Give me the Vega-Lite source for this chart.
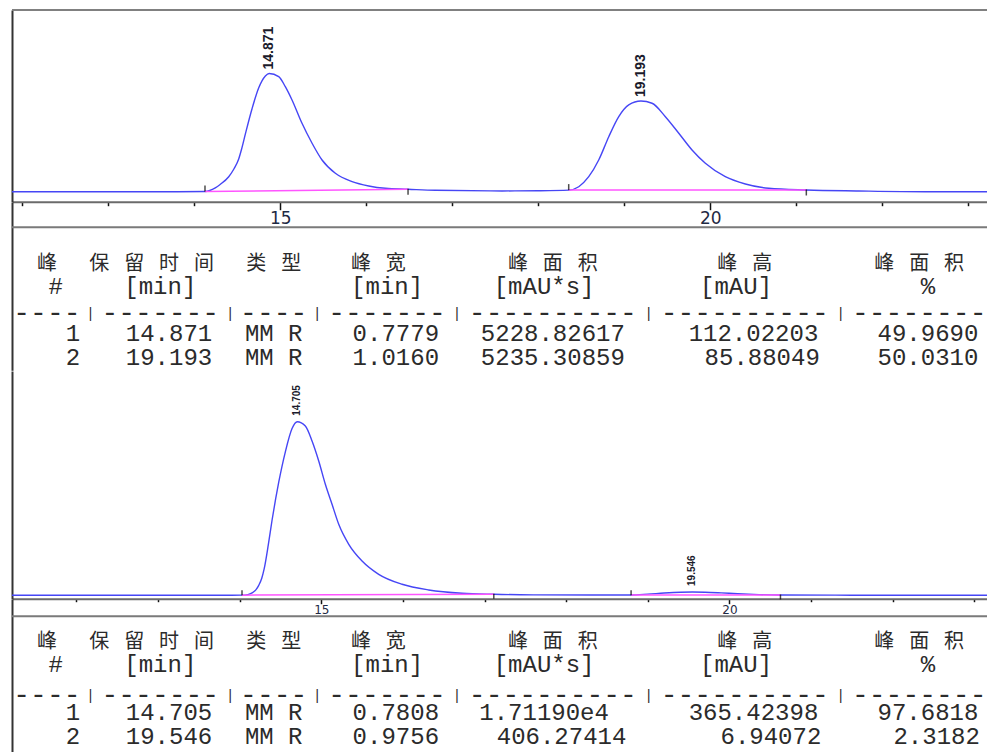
{
  "$schema": "https://vega.github.io/schema/vega-lite/v6.json",
  "background": "white",
  "padding": {"left": 9, "top": 9, "right": 0, "bottom": 0},
  "bounds": "flush",
  "spacing": 0,
  "config": {"view": {"stroke": null}, "axis": {"grid": false}},
  "datasets": {
    "trace1": [
      {"t": 11.88, "v": 0}, {"t": 12.5, "v": 0}, {"t": 13.2, "v": 0}, {"t": 13.8, "v": 0},
      {"t": 14.124, "v": 0.2}, {"t": 14.244, "v": 3.6}, {"t": 14.3, "v": 6.8}, {"t": 14.4, "v": 14.2},
      {"t": 14.46, "v": 21.5}, {"t": 14.516, "v": 31.0}, {"t": 14.55, "v": 40.5}, {"t": 14.593, "v": 54.5},
      {"t": 14.671, "v": 78.6}, {"t": 14.749, "v": 98.5}, {"t": 14.826, "v": 109.7},
      {"t": 14.871, "v": 112.02203}, {"t": 14.981, "v": 109.0}, {"t": 15.058, "v": 99.5}, {"t": 15.136, "v": 86.9},
      {"t": 15.252, "v": 64.8}, {"t": 15.369, "v": 45.9}, {"t": 15.485, "v": 30.0}, {"t": 15.64, "v": 17.4},
      {"t": 15.834, "v": 9.5}, {"t": 16.028, "v": 5.4}, {"t": 16.221, "v": 3.2}, {"t": 16.485, "v": 2.3},
      {"t": 16.802, "v": 1.3}, {"t": 17.58, "v": 0.7}, {"t": 18.0, "v": 0.9}, {"t": 18.353, "v": 1.5},
      {"t": 18.47, "v": 4.7}, {"t": 18.586, "v": 14.2}, {"t": 18.702, "v": 30.0}, {"t": 18.819, "v": 52.1},
      {"t": 18.935, "v": 71.1}, {"t": 19.051, "v": 82.2}, {"t": 19.193, "v": 85.88049}, {"t": 19.322, "v": 83.8},
      {"t": 19.477, "v": 71.1}, {"t": 19.633, "v": 55.4}, {"t": 19.787, "v": 39.5}, {"t": 19.942, "v": 26.9},
      {"t": 20.174, "v": 14.2}, {"t": 20.407, "v": 7.3}, {"t": 20.679, "v": 3.2}, {"t": 21.116, "v": 1.6},
      {"t": 21.726, "v": 0.7}, {"t": 22.5, "v": 0.0}, {"t": 23.24, "v": 0.0}
    ],
    "base1": [
      {"peak": 1, "t": 14.124, "v": 0.2, "kind": "start"}, {"peak": 1, "t": 16.485, "v": 2.3, "kind": "end"},
      {"peak": 2, "t": 18.353, "v": 1.5, "kind": "start"}, {"peak": 2, "t": 21.116, "v": 1.6, "kind": "end"}
    ],
    "peaks1": [{"rt": 14.871, "h": 112.02203}, {"rt": 19.193, "h": 85.88049}],
    "trace2": [
      {"t": 11.21, "v": 0}, {"t": 12.5, "v": 0}, {"t": 13.5, "v": 0}, {"t": 14.028, "v": 0.3},
      {"t": 14.1, "v": 1.5}, {"t": 14.151, "v": 5.0}, {"t": 14.2, "v": 12}, {"t": 14.233, "v": 21},
      {"t": 14.27, "v": 36}, {"t": 14.3, "v": 56}, {"t": 14.35, "v": 106}, {"t": 14.396, "v": 158},
      {"t": 14.44, "v": 203}, {"t": 14.478, "v": 238}, {"t": 14.559, "v": 302}, {"t": 14.641, "v": 351},
      {"t": 14.705, "v": 365.42398}, {"t": 14.804, "v": 356.4}, {"t": 14.886, "v": 324.8}, {"t": 14.968, "v": 282.7},
      {"t": 15.049, "v": 233.7}, {"t": 15.131, "v": 191.6}, {"t": 15.213, "v": 149.5}, {"t": 15.336, "v": 107.4},
      {"t": 15.499, "v": 72.2}, {"t": 15.703, "v": 44.2}, {"t": 15.989, "v": 23.2}, {"t": 16.316, "v": 11.2},
      {"t": 16.724, "v": 4.2}, {"t": 17.113, "v": 2.1}, {"t": 17.6, "v": 0.9}, {"t": 18.3, "v": 0.5},
      {"t": 18.795, "v": 0.6}, {"t": 19.0, "v": 2.4}, {"t": 19.2, "v": 4.8}, {"t": 19.4, "v": 6.5},
      {"t": 19.546, "v": 6.94072}, {"t": 19.7, "v": 6.5}, {"t": 19.9, "v": 5.0}, {"t": 20.1, "v": 3.2},
      {"t": 20.3, "v": 1.8}, {"t": 20.625, "v": 0.6}, {"t": 21.5, "v": 0.2}, {"t": 23.18, "v": 0}
    ],
    "base2": [
      {"peak": 1, "t": 14.028, "v": 0.3, "kind": "start"}, {"peak": 1, "t": 17.113, "v": 2.1, "kind": "end"},
      {"peak": 2, "t": 18.795, "v": 0.6, "kind": "start"}, {"peak": 2, "t": 20.625, "v": 0.6, "kind": "end"}
    ],
    "peaks2": [{"rt": 14.705, "h": 365.42398}, {"rt": 19.546, "h": 6.94072}],
    "table1": [
      {"line": 1, "col": 2, "s": "峰", "kind": "cjk"},
      {"line": 1, "col": 5, "s": "保", "kind": "cjk"}, {"line": 1, "col": 7, "s": "留", "kind": "cjk"},
      {"line": 1, "col": 9, "s": "时", "kind": "cjk"}, {"line": 1, "col": 11, "s": "间", "kind": "cjk"},
      {"line": 1, "col": 14, "s": "类", "kind": "cjk"}, {"line": 1, "col": 16, "s": "型", "kind": "cjk"},
      {"line": 1, "col": 20, "s": "峰", "kind": "cjk"}, {"line": 1, "col": 22, "s": "宽", "kind": "cjk"},
      {"line": 1, "col": 29, "s": "峰", "kind": "cjk"}, {"line": 1, "col": 31, "s": "面", "kind": "cjk"},
      {"line": 1, "col": 33, "s": "积", "kind": "cjk"},
      {"line": 1, "col": 41, "s": "峰", "kind": "cjk"}, {"line": 1, "col": 43, "s": "高", "kind": "cjk"},
      {"line": 1, "col": 50, "s": "峰", "kind": "cjk"}, {"line": 1, "col": 52, "s": "面", "kind": "cjk"},
      {"line": 1, "col": 54, "s": "积", "kind": "cjk"},
      {"line": 2, "col": 2.5, "s": "#", "kind": "txt"}, {"line": 2, "col": 8.5, "s": "[min]", "kind": "txt"},
      {"line": 2, "col": 21.5, "s": "[min]", "kind": "txt"}, {"line": 2, "col": 30.5, "s": "[mAU*s]", "kind": "txt"},
      {"line": 2, "col": 41.5, "s": "[mAU]", "kind": "txt"}, {"line": 2, "col": 52.5, "s": "%", "kind": "txt"},
      {"line": 3, "col": 2, "s": "----", "kind": "dash"}, {"line": 3, "col": 8.5, "s": "-------", "kind": "dash"},
      {"line": 3, "col": 15, "s": "----", "kind": "dash"}, {"line": 3, "col": 21.5, "s": "-------", "kind": "dash"},
      {"line": 3, "col": 31, "s": "----------", "kind": "dash"}, {"line": 3, "col": 42, "s": "----------", "kind": "dash"},
      {"line": 3, "col": 52, "s": "--------", "kind": "dash"},
      {"line": 3, "col": 4.5, "s": "|", "kind": "pipe"}, {"line": 3, "col": 12.5, "s": "|", "kind": "pipe"},
      {"line": 3, "col": 17.5, "s": "|", "kind": "pipe"}, {"line": 3, "col": 25.5, "s": "|", "kind": "pipe"},
      {"line": 3, "col": 36.5, "s": "|", "kind": "pipe"}, {"line": 3, "col": 47.5, "s": "|", "kind": "pipe"},
      {"line": 4, "col": 3.5, "s": "1", "kind": "txt"}, {"line": 4, "col": 9, "s": "14.871", "kind": "txt"},
      {"line": 4, "col": 15, "s": "MM R", "kind": "txt"}, {"line": 4, "col": 22, "s": "0.7779", "kind": "txt"},
      {"line": 4, "col": 31, "s": "5228.82617", "kind": "txt"}, {"line": 4, "col": 42.5, "s": "112.02203", "kind": "txt"},
      {"line": 4, "col": 52.5, "s": "49.9690", "kind": "txt"},
      {"line": 5, "col": 3.5, "s": "2", "kind": "txt"}, {"line": 5, "col": 9, "s": "19.193", "kind": "txt"},
      {"line": 5, "col": 15, "s": "MM R", "kind": "txt"}, {"line": 5, "col": 22, "s": "1.0160", "kind": "txt"},
      {"line": 5, "col": 31, "s": "5235.30859", "kind": "txt"}, {"line": 5, "col": 43, "s": "85.88049", "kind": "txt"},
      {"line": 5, "col": 52.5, "s": "50.0310", "kind": "txt"}
    ],
    "table2": [
      {"line": 1, "col": 2, "s": "峰", "kind": "cjk"},
      {"line": 1, "col": 5, "s": "保", "kind": "cjk"}, {"line": 1, "col": 7, "s": "留", "kind": "cjk"},
      {"line": 1, "col": 9, "s": "时", "kind": "cjk"}, {"line": 1, "col": 11, "s": "间", "kind": "cjk"},
      {"line": 1, "col": 14, "s": "类", "kind": "cjk"}, {"line": 1, "col": 16, "s": "型", "kind": "cjk"},
      {"line": 1, "col": 20, "s": "峰", "kind": "cjk"}, {"line": 1, "col": 22, "s": "宽", "kind": "cjk"},
      {"line": 1, "col": 29, "s": "峰", "kind": "cjk"}, {"line": 1, "col": 31, "s": "面", "kind": "cjk"},
      {"line": 1, "col": 33, "s": "积", "kind": "cjk"},
      {"line": 1, "col": 41, "s": "峰", "kind": "cjk"}, {"line": 1, "col": 43, "s": "高", "kind": "cjk"},
      {"line": 1, "col": 50, "s": "峰", "kind": "cjk"}, {"line": 1, "col": 52, "s": "面", "kind": "cjk"},
      {"line": 1, "col": 54, "s": "积", "kind": "cjk"},
      {"line": 2, "col": 2.5, "s": "#", "kind": "txt"}, {"line": 2, "col": 8.5, "s": "[min]", "kind": "txt"},
      {"line": 2, "col": 21.5, "s": "[min]", "kind": "txt"}, {"line": 2, "col": 30.5, "s": "[mAU*s]", "kind": "txt"},
      {"line": 2, "col": 41.5, "s": "[mAU]", "kind": "txt"}, {"line": 2, "col": 52.5, "s": "%", "kind": "txt"},
      {"line": 3, "col": 2, "s": "----", "kind": "dash"}, {"line": 3, "col": 8.5, "s": "-------", "kind": "dash"},
      {"line": 3, "col": 15, "s": "----", "kind": "dash"}, {"line": 3, "col": 21.5, "s": "-------", "kind": "dash"},
      {"line": 3, "col": 31, "s": "----------", "kind": "dash"}, {"line": 3, "col": 42, "s": "----------", "kind": "dash"},
      {"line": 3, "col": 52, "s": "--------", "kind": "dash"},
      {"line": 3, "col": 4.5, "s": "|", "kind": "pipe"}, {"line": 3, "col": 12.5, "s": "|", "kind": "pipe"},
      {"line": 3, "col": 17.5, "s": "|", "kind": "pipe"}, {"line": 3, "col": 25.5, "s": "|", "kind": "pipe"},
      {"line": 3, "col": 36.5, "s": "|", "kind": "pipe"}, {"line": 3, "col": 47.5, "s": "|", "kind": "pipe"},
      {"line": 4, "col": 3.5, "s": "1", "kind": "txt"}, {"line": 4, "col": 9, "s": "14.705", "kind": "txt"},
      {"line": 4, "col": 15, "s": "MM R", "kind": "txt"}, {"line": 4, "col": 22, "s": "0.7808", "kind": "txt"},
      {"line": 4, "col": 30.5, "s": "1.71190e4", "kind": "txt"}, {"line": 4, "col": 42.5, "s": "365.42398", "kind": "txt"},
      {"line": 4, "col": 52.5, "s": "97.6818", "kind": "txt"},
      {"line": 5, "col": 3.5, "s": "2", "kind": "txt"}, {"line": 5, "col": 9, "s": "19.546", "kind": "txt"},
      {"line": 5, "col": 15, "s": "MM R", "kind": "txt"}, {"line": 5, "col": 22, "s": "0.9756", "kind": "txt"},
      {"line": 5, "col": 31.5, "s": "406.27414", "kind": "txt"}, {"line": 5, "col": 43.5, "s": "6.94072", "kind": "txt"},
      {"line": 5, "col": 53, "s": "2.3182", "kind": "txt"}
    ]
  },
  "vconcat": [
    {
      "width": 977,
      "height": 191.7,
      "layer": [
        {
          "data": {"name": "trace1"},
          "mark": {"type": "line", "color": "#4646f5", "strokeWidth": 1.4, "interpolate": "monotone"},
          "encoding": {
            "x": {"field": "t", "type": "quantitative", "scale": {"domain": [11.88, 23.24], "nice": false, "zero": false},
              "axis": {"title": null, "grid": false, "values": [12, 13, 14, 15, 16, 17, 18, 19, 20, 21, 22, 23], "format": "d",
                "labelExpr": "datum.value % 5 === 0 ? format(datum.value, 'd') : ''",
                "tickSize": {"condition": {"test": "datum.value % 5 === 0", "value": 8}, "value": 4},
                "tickColor": "#111111", "tickWidth": 1.5, "domainColor": "#6b6b6b", "domainWidth": 2,
                "labelFont": "DejaVu Sans", "labelFontSize": 17, "labelColor": "#1f2a44", "labelPadding": 1,
                "labelFlush": false, "labelOverlap": false}},
            "y": {"field": "v", "type": "quantitative", "scale": {"domain": [-9.5, 172.2], "nice": false, "zero": false},
              "axis": {"title": null, "grid": false, "ticks": false, "labels": false, "domainColor": "#333333", "domainWidth": 2}}
          }
        },
        {
          "data": {"name": "base1"},
          "mark": {"type": "line", "color": "#ff55ff", "strokeWidth": 1.5},
          "encoding": {
            "x": {"field": "t", "type": "quantitative"},
            "y": {"field": "v", "type": "quantitative"},
            "detail": {"field": "peak"}
          }
        },
        {
          "data": {"name": "base1"},
          "transform": [{"filter": "datum.kind === 'start'"}],
          "mark": {"type": "tick", "orient": "vertical", "color": "#000000", "thickness": 1.5, "size": 6, "yOffset": -3},
          "encoding": {
            "x": {"field": "t", "type": "quantitative"},
            "y": {"field": "v", "type": "quantitative"}
          }
        },
        {
          "data": {"name": "base1"},
          "transform": [{"filter": "datum.kind === 'end'"}],
          "mark": {"type": "tick", "orient": "vertical", "color": "#000000", "thickness": 1.5, "size": 6, "yOffset": 2.5},
          "encoding": {
            "x": {"field": "t", "type": "quantitative"},
            "y": {"field": "v", "type": "quantitative"}
          }
        },
        {
          "data": {"name": "peaks1"},
          "mark": {"type": "text", "angle": 270, "align": "left", "baseline": "middle", "font": "Liberation Sans", "fontSize": 14, "fontWeight": "bold", "color": "#1b1b2b", "yOffset": -4},
          "encoding": {
            "x": {"field": "rt", "type": "quantitative"},
            "y": {"field": "h", "type": "quantitative"},
            "text": {"field": "rt", "type": "quantitative", "format": ".3f"}
          }
        },
        {
          "data": {"values": [{}]},
          "mark": {"type": "rule", "color": "#808080", "strokeWidth": 2},
          "encoding": {"y": {"datum": 172.2}}
        }
      ]
    },
    {
      "width": 977,
      "height": 168.3,
      "data": {"name": "table1"},
      "layer": [
        {
          "transform": [{"filter": "datum.kind === 'cjk'"}],
          "mark": {"type": "text", "font": "Noto Sans CJK SC", "fontSize": 20, "align": "center", "baseline": "middle", "color": "#2b2b2b", "yOffset": 1.5},
          "encoding": {
            "x": {"field": "col", "type": "quantitative", "scale": {"domain": [0, 56], "nice": false, "zero": false},
              "axis": {"title": null, "grid": false, "domain": false, "ticks": false, "labels": false}},
            "y": {"field": "line", "type": "quantitative", "scale": {"domain": [-1.56, 5.526], "nice": false, "zero": false, "reverse": true},
              "axis": {"title": null, "grid": false, "ticks": false, "labels": false, "domainColor": "#333333", "domainWidth": 2}},
            "text": {"field": "s"}
          }
        },
        {
          "transform": [{"filter": "datum.kind === 'txt'"}],
          "mark": {"type": "text", "font": "Liberation Mono", "fontSize": 24, "align": "center", "baseline": "middle", "color": "#2b2b2b"},
          "encoding": {
            "x": {"field": "col", "type": "quantitative"},
            "y": {"field": "line", "type": "quantitative"},
            "text": {"field": "s"}
          }
        },
        {
          "transform": [{"filter": "datum.kind === 'dash'"}],
          "mark": {"type": "text", "font": "Liberation Mono", "fontSize": 28, "align": "center", "baseline": "middle", "color": "#2b2b2b", "yOffset": 3},
          "encoding": {
            "x": {"field": "col", "type": "quantitative"},
            "y": {"field": "line", "type": "quantitative"},
            "text": {"field": "s"}
          }
        },
        {
          "transform": [{"filter": "datum.kind === 'pipe'"}],
          "mark": {"type": "text", "font": "Liberation Mono", "fontSize": 14, "align": "center", "baseline": "middle", "color": "#2b2b2b", "yOffset": 3.3},
          "encoding": {
            "x": {"field": "col", "type": "quantitative"},
            "y": {"field": "line", "type": "quantitative"},
            "text": {"field": "s"}
          }
        },
        {
          "data": {"values": [{}]},
          "mark": {"type": "rule", "color": "#7a7a7a", "strokeWidth": 2},
          "encoding": {"y": {"datum": -0.495}}
        }
      ]
    },
    {
      "width": 977,
      "height": 227.7,
      "layer": [
        {
          "data": {"name": "trace2"},
          "mark": {"type": "line", "color": "#4646f5", "strokeWidth": 1.4, "interpolate": "monotone"},
          "encoding": {
            "x": {"field": "t", "type": "quantitative", "scale": {"domain": [11.21, 23.18], "nice": false, "zero": false},
              "axis": {"title": null, "grid": false, "values": [12, 13, 14, 15, 16, 17, 18, 19, 20, 21, 22, 23], "format": "d",
                "labelExpr": "datum.value % 5 === 0 ? format(datum.value, 'd') : ''",
                "tickSize": {"condition": {"test": "datum.value % 5 === 0", "value": 5}, "value": 3},
                "tickColor": "#111111", "tickWidth": 1.5, "domainColor": "#6b6b6b", "domainWidth": 2,
                "labelFont": "DejaVu Sans", "labelFontSize": 12, "labelColor": "#1f2a44", "labelPadding": 0.5,
                "labelFlush": false, "labelOverlap": false}},
            "y": {"field": "v", "type": "quantitative", "scale": {"domain": [-7.2, 472.2], "nice": false, "zero": false},
              "axis": {"title": null, "grid": false, "ticks": false, "labels": false, "domainColor": "#333333", "domainWidth": 2}}
          }
        },
        {
          "data": {"name": "base2"},
          "mark": {"type": "line", "color": "#ff55ff", "strokeWidth": 1.5},
          "encoding": {
            "x": {"field": "t", "type": "quantitative"},
            "y": {"field": "v", "type": "quantitative"},
            "detail": {"field": "peak"}
          }
        },
        {
          "data": {"name": "base2"},
          "transform": [{"filter": "datum.kind === 'start'"}],
          "mark": {"type": "tick", "orient": "vertical", "color": "#000000", "thickness": 1.5, "size": 5, "yOffset": -2.3},
          "encoding": {
            "x": {"field": "t", "type": "quantitative"},
            "y": {"field": "v", "type": "quantitative"}
          }
        },
        {
          "data": {"name": "base2"},
          "transform": [{"filter": "datum.kind === 'end'"}],
          "mark": {"type": "tick", "orient": "vertical", "color": "#000000", "thickness": 1.5, "size": 5, "yOffset": 2},
          "encoding": {
            "x": {"field": "t", "type": "quantitative"},
            "y": {"field": "v", "type": "quantitative"}
          }
        },
        {
          "data": {"name": "peaks2"},
          "mark": {"type": "text", "angle": 270, "align": "left", "baseline": "middle", "font": "Liberation Sans", "fontSize": 10, "fontWeight": "bold", "color": "#1b1b2b", "yOffset": -6},
          "encoding": {
            "x": {"field": "rt", "type": "quantitative"},
            "y": {"field": "h", "type": "quantitative"},
            "text": {"field": "rt", "type": "quantitative", "format": ".3f"}
          }
        }
      ]
    },
    {
      "width": 977,
      "height": 154.3,
      "data": {"name": "table2"},
      "layer": [
        {
          "transform": [{"filter": "datum.kind === 'cjk'"}],
          "mark": {"type": "text", "font": "Noto Sans CJK SC", "fontSize": 20, "align": "center", "baseline": "middle", "color": "#2b2b2b", "yOffset": 1.5},
          "encoding": {
            "x": {"field": "col", "type": "quantitative", "scale": {"domain": [0, 56], "nice": false, "zero": false},
              "axis": {"title": null, "grid": false, "domain": false, "ticks": false, "labels": false}},
            "y": {"field": "line", "type": "quantitative", "scale": {"domain": [-0.707, 5.669], "nice": false, "zero": false, "reverse": true},
              "axis": {"title": null, "grid": false, "ticks": false, "labels": false, "domainColor": "#333333", "domainWidth": 2}},
            "text": {"field": "s"}
          }
        },
        {
          "transform": [{"filter": "datum.kind === 'txt'"}],
          "mark": {"type": "text", "font": "Liberation Mono", "fontSize": 24, "align": "center", "baseline": "middle", "color": "#2b2b2b"},
          "encoding": {
            "x": {"field": "col", "type": "quantitative"},
            "y": {"field": "line", "type": "quantitative"},
            "text": {"field": "s"}
          }
        },
        {
          "transform": [{"filter": "datum.kind === 'dash'"}],
          "mark": {"type": "text", "font": "Liberation Mono", "fontSize": 28, "align": "center", "baseline": "middle", "color": "#2b2b2b", "yOffset": 6.7},
          "encoding": {
            "x": {"field": "col", "type": "quantitative"},
            "y": {"field": "line", "type": "quantitative"},
            "text": {"field": "s"}
          }
        },
        {
          "transform": [{"filter": "datum.kind === 'pipe'"}],
          "mark": {"type": "text", "font": "Liberation Mono", "fontSize": 14, "align": "center", "baseline": "middle", "color": "#2b2b2b", "yOffset": 7.6},
          "encoding": {
            "x": {"field": "col", "type": "quantitative"},
            "y": {"field": "line", "type": "quantitative"},
            "text": {"field": "s"}
          }
        },
        {
          "data": {"values": [{}]},
          "mark": {"type": "rule", "color": "#7a7a7a", "strokeWidth": 2},
          "encoding": {"y": {"datum": 0.008}}
        }
      ]
    }
  ]
}
